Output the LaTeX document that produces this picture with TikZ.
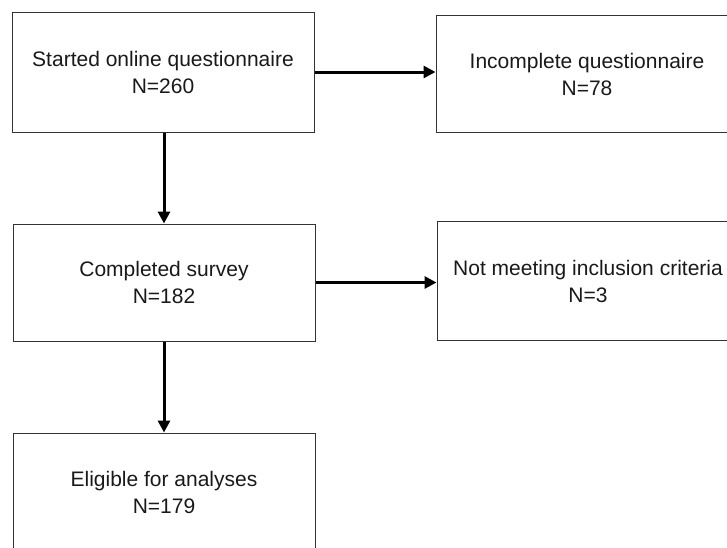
\documentclass[tikz,border=0pt]{standalone}
\usepackage{fontspec}
\setmainfont{Liberation Sans}
\usetikzlibrary{arrows.meta,positioning}

\begin{document}
\begin{tikzpicture}[x=1pt,y=-1pt,
    box/.style={rectangle, draw=black!80, line width=1pt, minimum width=302pt,
    minimum height=118pt, align=center, text=black!90,
    font=\fontsize{21}{27}\selectfont},
    flow/.style={line width=3pt, -{Triangle[length=12pt,width=12pt]}}]
  \useasboundingbox (0,0) rectangle (727,547);
  \node[box, minimum height=120pt] (start) at (163,72) {Started online questionnaire\\N=260};
  \node[box, minimum height=117pt] (incomplete) at (587,74) {Incomplete questionnaire\\N=78};
  \node[box, minimum height=117pt] (completed) at (164,282.5) {Completed survey\\N=182};
  \node[box, minimum height=119pt] (notmeet) at (588,281) {Not meeting inclusion criteria\\N=3};
  \node[box] (eligible) at (164,492) {Eligible for analyses\\N=179};
  \draw[flow] (start.east) -- (start.east -| incomplete.west);
  \draw[flow] (start.south -| completed.north) -- (completed.north);
  \draw[flow] (completed.east) -- (completed.east -| notmeet.west);
  \draw[flow] (completed.south) -- (eligible.north);
\end{tikzpicture}
\end{document}
